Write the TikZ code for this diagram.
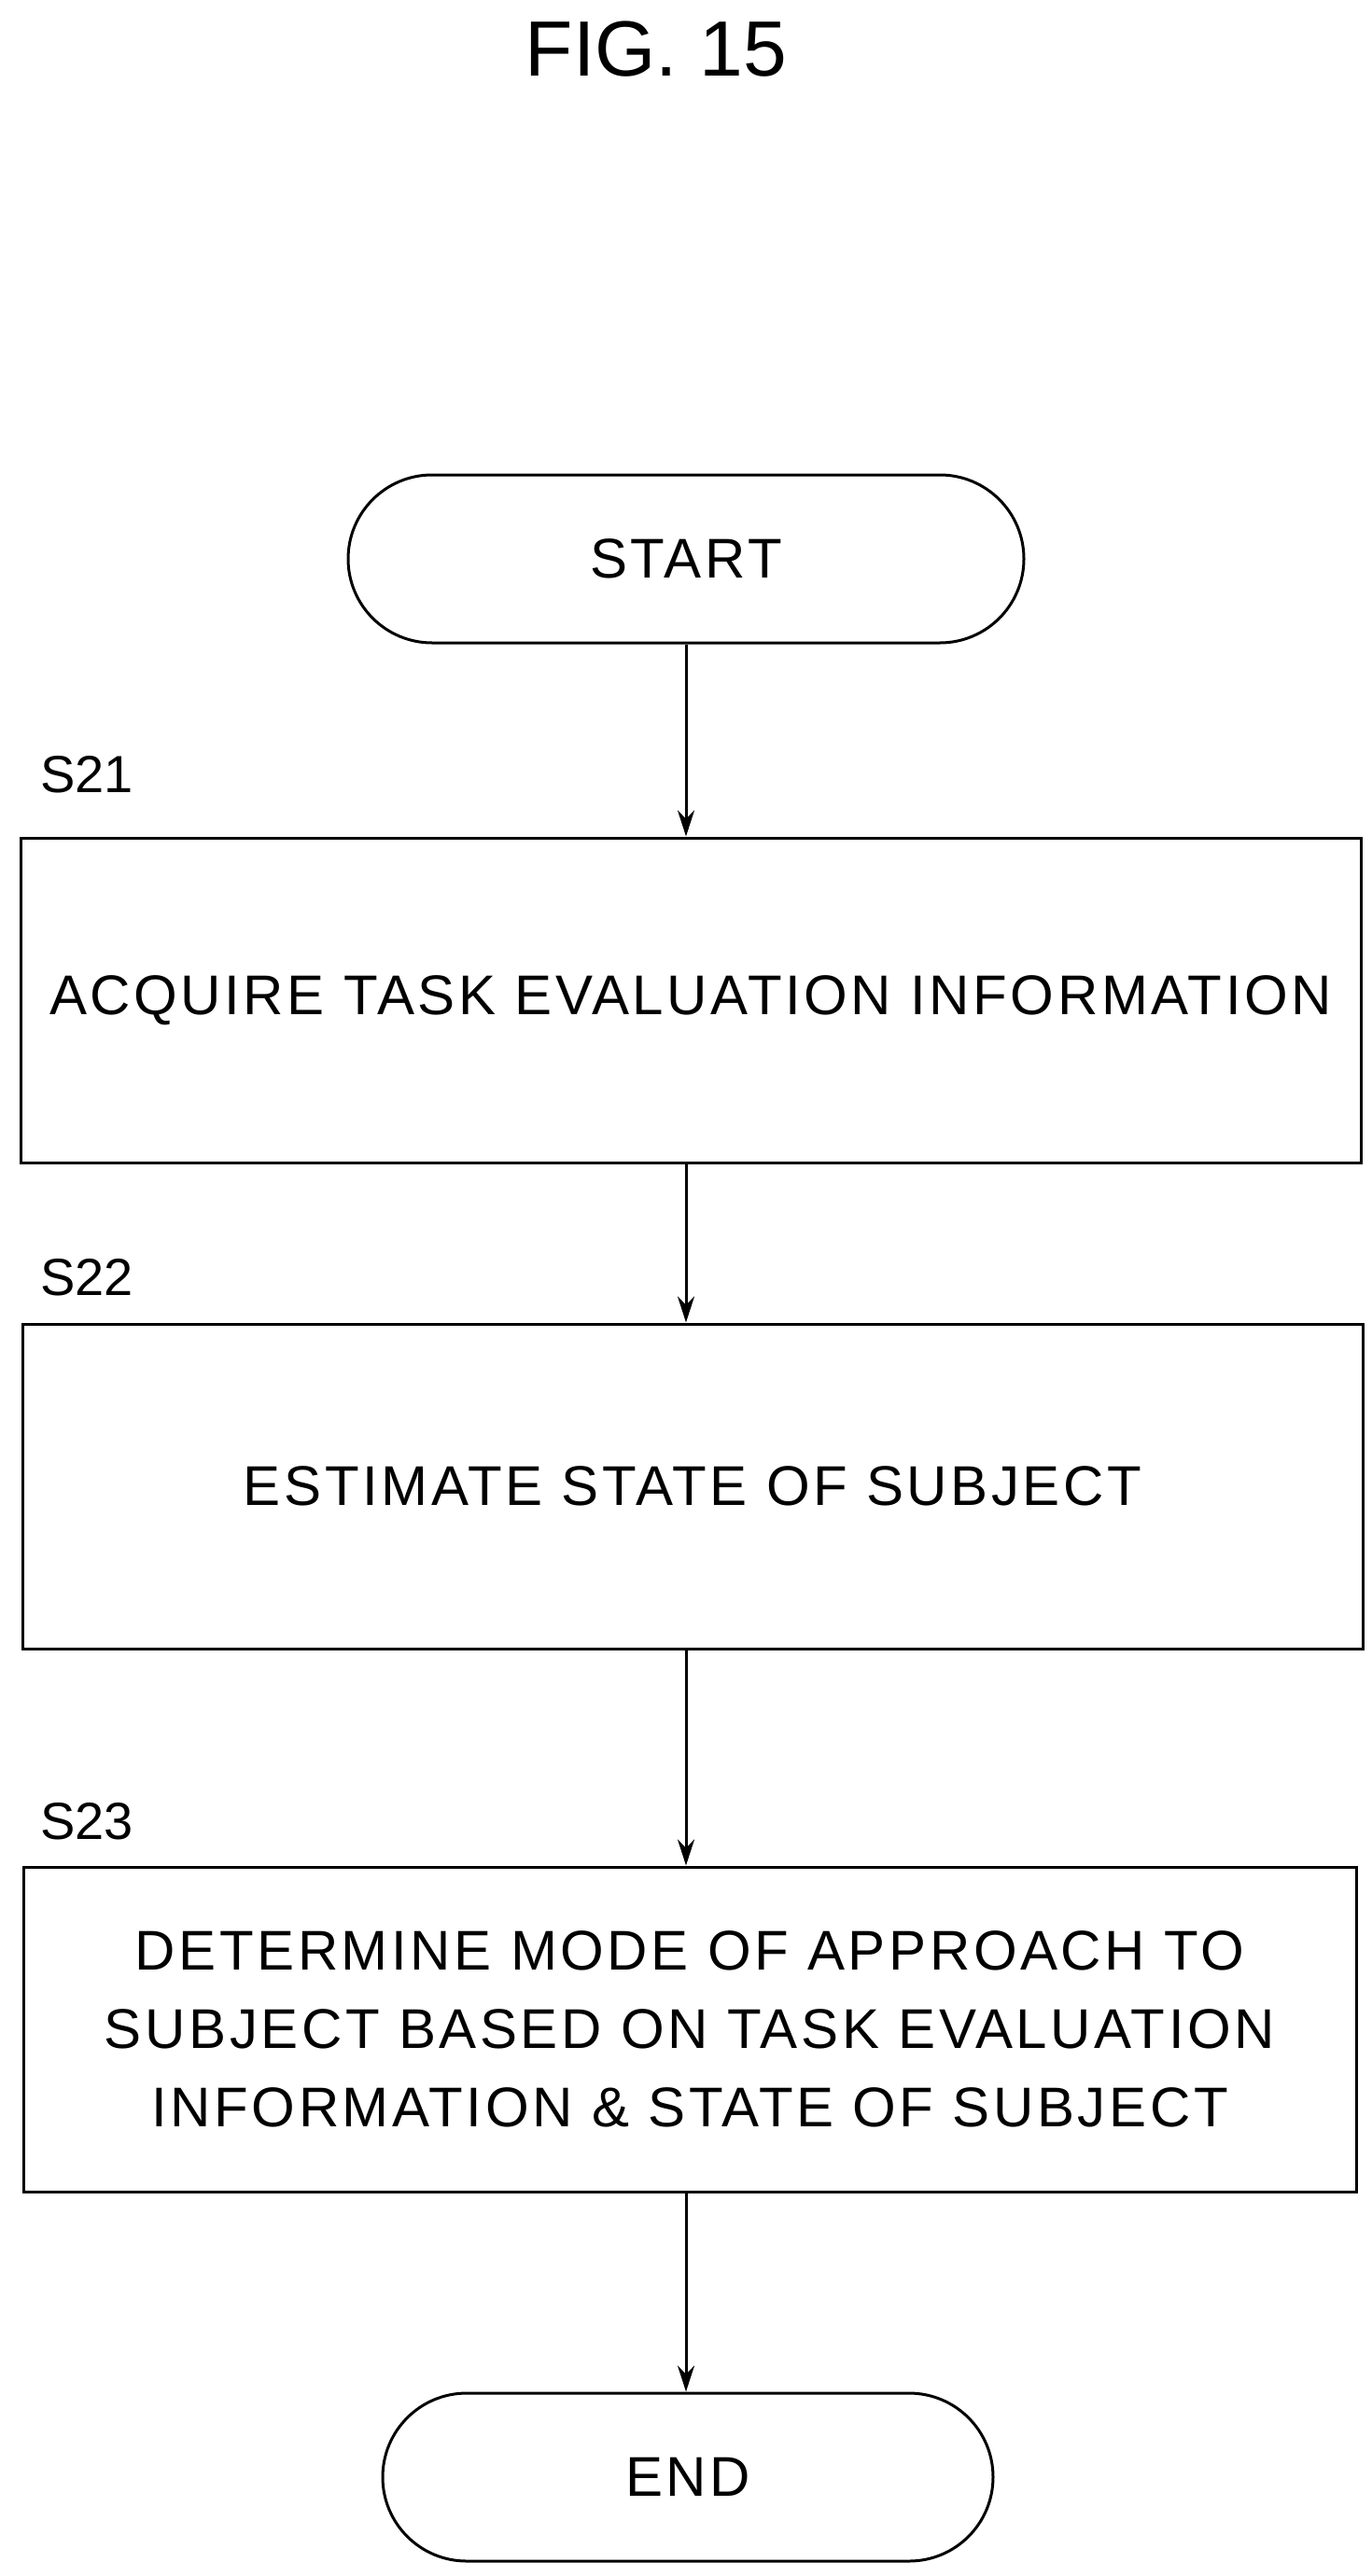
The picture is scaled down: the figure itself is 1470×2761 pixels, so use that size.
\documentclass[tikz,border=0pt]{standalone}
\usepackage{fontspec}
\setmainfont{Liberation Sans}
\newfontfamily\spaced[LetterSpace=6]{Liberation Sans}
\usetikzlibrary{arrows.meta}
\begin{document}
\begin{tikzpicture}[x=0.5pt,y=-0.5pt,
  box/.style={draw,line width=1.5pt,minimum width=718pt,minimum height=174pt,align=center,font=\spaced\fontsize{30}{42}\selectfont},
  term/.style={draw,line width=1.5pt,rounded corners=45pt,minimum height=90pt,font=\spaced\fontsize{30}{34}\selectfont},
  lab/.style={anchor=west,font=\fontsize{28}{34}\selectfont},
  arr/.style={-{Stealth[length=14pt,width=9pt]},line width=1.5pt}]
\useasboundingbox (0,0) rectangle (1470,2761);
\node (title) at (703,53) {\fontsize{42}{48}\selectfont FIG. 15};
\node[term,minimum width=362pt] (start) at (735,599) {START};
\node[box] (b1) at (740,1072) {ACQUIRE TASK EVALUATION INFORMATION};
\node[box] (b2) at (742,1593) {ESTIMATE STATE OF SUBJECT};
\node[box,minimum width=714pt] (b3) at (739,2175) {DETERMINE MODE OF APPROACH TO\\SUBJECT BASED ON TASK EVALUATION\\INFORMATION \& STATE OF SUBJECT};
\node[term,minimum width=327pt] (end) at (737,2655) {END};
\node[lab] (s21) at (36,830) {S21};
\node[lab] (s22) at (36,1369) {S22};
\node[lab] (s23) at (36,1952) {S23};
\draw[arr] (start) -- (start|-b1.north);
\draw[arr] (b1.south-|start) -- (start|-b2.north);
\draw[arr] (b2.south-|start) -- (start|-b3.north);
\draw[arr] (b3.south-|start) -- (start|-end.north);
\end{tikzpicture}
\end{document}
